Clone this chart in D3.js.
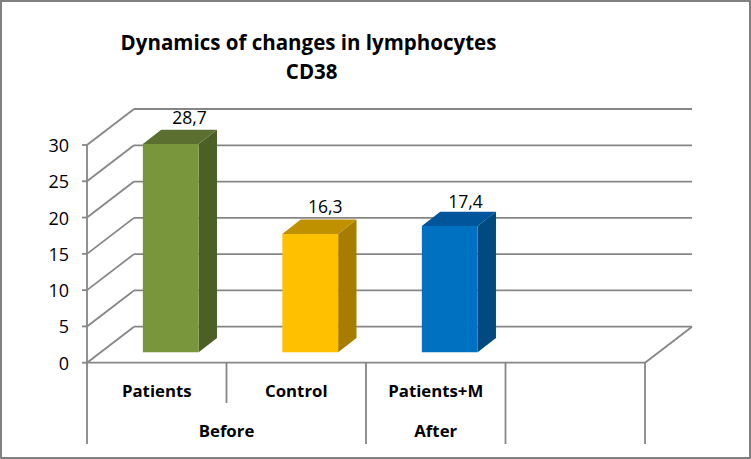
<!DOCTYPE html>
<html><head><meta charset="utf-8">
<script src="https://cdn.jsdelivr.net/npm/d3@7"></script>
<style>html,body{margin:0;padding:0;background:#fff}svg{display:block}
text{font-family:"Open Sans",sans-serif;fill:#000}</style></head><body>
<svg id="c" width="751" height="459"></svg>
<script>
const categories = ["Patients", "Control", "Patients+M", ""];
const values = [28.7, 16.3, 17.4];
const valueLabels = ["28,7", "16,3", "17,4"];
const groups = [["Before", 0, 2], ["After", 2, 3], ["", 3, 4]];
const yTicks = [0, 5, 10, 15, 20, 25, 30];
const titleLines = ["Dynamics of changes in lymphocytes", "CD38"];
const barColors = [
  {front:"#7a963c", top:"#5b7030", side:"#4c5f27"},
  {front:"#ffc000", top:"#bf9000", side:"#a67d00"},
  {front:"#0070c0", top:"#00559b", side:"#004a80"}
];

const svg = d3.select("#c");
const grid = "#868686";
svg.append("rect").attr("x",1).attr("y",1).attr("width",749).attr("height",457)
  .attr("fill","#fff").attr("stroke","#808080").attr("stroke-width",2);

const y = d3.scaleLinear().domain([0,30]).range([362.7,145]);
const x = d3.scaleBand().domain(d3.range(categories.length)).range([87,645]).paddingInner(0).paddingOuter(0);
const dx = 47, dy = -36;
const mx = dx*0.39, my = dy*0.4;   // bar depth
const floorY = 352.3;
const barW = x.bandwidth()*0.4;
const barX = i => x(i) + x.bandwidth()*0.5 + 14 - barW/2;
const line = (g,x1,y1,x2,y2,w=1.8)=>g.append("line").attr("x1",x1).attr("y1",y1).attr("x2",x2).attr("y2",y2)
  .attr("stroke",grid).attr("stroke-width",w);

const gw = svg.append("g");
yTicks.forEach(t=>{
  line(gw,87,y(t),87+dx,y(t)+dy);
  line(gw,87+dx,y(t)+dy,645+dx,y(t)+dy);
  line(gw,82,y(t),87,y(t));
});
line(gw,87,y(30),87,y(0));
line(gw,87,y(0),645,y(0));
line(gw,645,y(0),645+dx,y(0)+dy);

const axisTop = y(0);
d3.range(categories.length+1).forEach(i=>{
  const px = i===categories.length ? x.range()[1] : x(i);
  const long = i===0 || groups.some(g=>g[1]===i || g[2]===i);
  line(gw,px,axisTop,px,long?444:403);
});

const labelOffset = [[18.7,-6],[15,-7],[15.7,-4]];
const bars = svg.append("g").selectAll("g").data(values).join("g");
bars.each(function(v,i){
  const g = d3.select(this), c = barColors[i];
  const x0 = barX(i), x1 = x0+barW, yb = floorY, h = y(0)-y(v), yt = yb-h;
  const poly=(pts,f)=>g.append("polygon").attr("points",pts.map(p=>p.join(",")).join(" ")).attr("fill",f);
  poly([[x1,yb],[x1+mx,yb+my],[x1+mx,yt+my],[x1,yt]],c.side);
  poly([[x0,yt],[x0+mx,yt+my],[x1+mx,yt+my],[x1,yt]],c.top);
  poly([[x0,yb],[x1,yb],[x1,yt],[x0,yt]],c.front);
  g.append("text").attr("x",(x0+x1)/2+labelOffset[i][0]).attr("y",yt+my+labelOffset[i][1]).attr("text-anchor","middle")
    .attr("font-size",17.5).text(valueLabels[i]);
});

svg.append("g").selectAll("text").data(yTicks).join("text")
  .attr("x",69).attr("y",d=>y(d)+7).attr("text-anchor","end").attr("font-size",18).text(d=>d);

svg.append("g").selectAll("text").data(categories).join("text")
  .attr("x",(d,i)=>x(i)+x.bandwidth()/2).attr("y",396.5).attr("text-anchor","middle")
  .attr("font-size",16.8).attr("font-weight",700).text(d=>d);
svg.append("g").selectAll("text").data(groups).join("text")
  .attr("x",d=>(x(d[1])+(d[2]<categories.length?x(d[2]):x.range()[1]))/2).attr("y",436.5).attr("text-anchor","middle")
  .attr("font-size",16.8).attr("font-weight",700).text(d=>d[0]);

svg.append("g").selectAll("text").data(titleLines).join("text")
  .attr("x",(d,i)=>i?311.7:308.5).attr("y",(d,i)=>50+i*28.5).attr("text-anchor","middle")
  .attr("font-size",20.5).attr("font-weight",700).text(d=>d);
</script></body></html>
